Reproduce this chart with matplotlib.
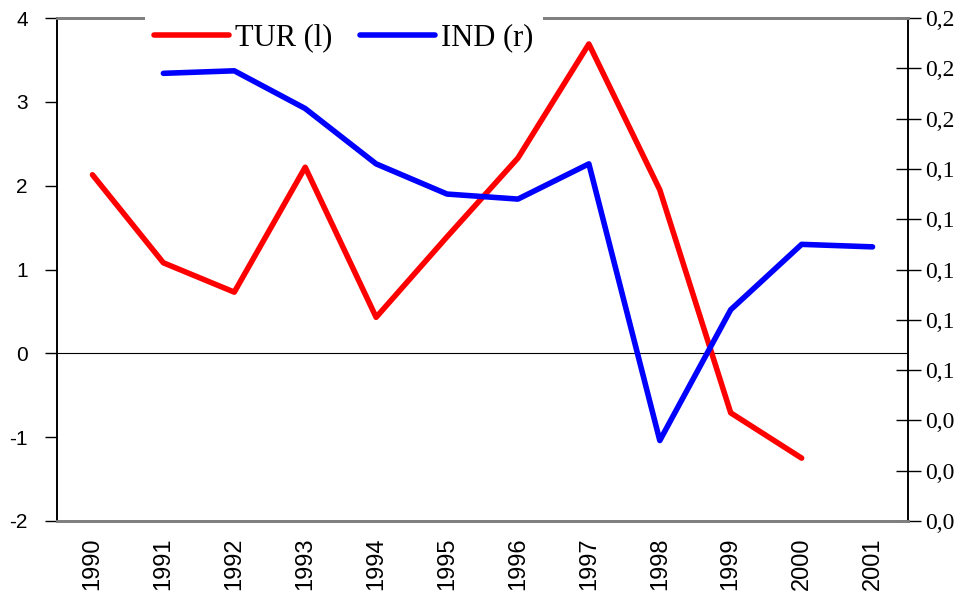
import numpy as np
import matplotlib
matplotlib.use("Agg")
import matplotlib.pyplot as plt
from matplotlib.ticker import FixedLocator, FuncFormatter

# ── data ─────────────────────────────────────────────────────────────
years = ["1990", "1991", "1992", "1993", "1994", "1995",
         "1996", "1997", "1998", "1999", "2000", "2001"]
tur = [2.13, 1.08, 0.73, 2.22, 0.43, 1.39, 2.33, 3.69, 1.95, -0.71, -1.25, np.nan]
ind = [np.nan, 0.178, 0.179, 0.164, 0.142, 0.130, 0.128, 0.142, 0.032, 0.084, 0.110, 0.109]

left_ticks = [-2, -1, 0, 1, 2, 3, 4]
right_ticks = [0.0, 0.02, 0.04, 0.06, 0.08, 0.10, 0.12, 0.14, 0.16, 0.18, 0.20]

# ── figure ───────────────────────────────────────────────────────────
fig = plt.figure(figsize=(9.62, 6.09), dpi=100)
ax = fig.add_axes([57 / 962, 1 - 521 / 609, (908 - 57) / 962, (521 - 18) / 609])
ax2 = ax.twinx()

x = np.arange(len(years))
l1, = ax.plot(x, tur, color="#ff0000", lw=4, solid_capstyle="round", label="TUR (l)")
l2, = ax2.plot(x, ind, color="#0000ff", lw=4, solid_capstyle="round", label="IND (r)")
ax.axhline(0, color="black", lw=0.8, zorder=1)

ax.set_xlim(-0.5, len(years) - 0.5)
ax.set_ylim(-2, 4)
ax2.set_ylim(0, 0.2)

ax.set_xticks(x)
ax.set_xticklabels(years, rotation=90, fontsize=17, family="Liberation Sans")
ax.tick_params(axis="x", length=0, pad=12)
ax.yaxis.set_major_locator(FixedLocator(left_ticks))
ax.set_yticklabels([str(t) for t in left_ticks], fontsize=15, family="Liberation Sans")
ax.tick_params(axis="y", direction="out", length=9, width=1, pad=12)

ax2.yaxis.set_major_locator(FixedLocator(right_ticks))
ax2.yaxis.set_major_formatter(FuncFormatter(lambda v, p: f"{v:.1f}".replace(".", ",")))
ax2.tick_params(axis="y", direction="inout", length=18, width=1, pad=3, labelsize=17)
for t in ax2.get_yticklabels():
    t.set_family("Liberation Serif")

for a in (ax, ax2):
    a.spines["top"].set_color("#808080")
    a.spines["bottom"].set_color("#808080")
    a.spines["top"].set_linewidth(2)
    a.spines["bottom"].set_linewidth(2)
    a.spines["left"].set_color("black")
    a.spines["right"].set_color("black")
    a.spines["left"].set_linewidth(1.2)
    a.spines["right"].set_linewidth(1.2)

leg = fig.legend(handles=[l1, l2], loc="center", bbox_to_anchor=(344 / 962, 1 - 38 / 609),
                 ncol=2, frameon=True, fancybox=False, edgecolor="white", facecolor="white",
                 framealpha=1, prop={"family": "Liberation Serif", "size": 22},
                 handlelength=2.45, handletextpad=0.2, columnspacing=0.9,
                 borderpad=0.3)
leg.get_frame().set_linewidth(0)

fig.savefig("out.png", dpi=100, facecolor="white")
